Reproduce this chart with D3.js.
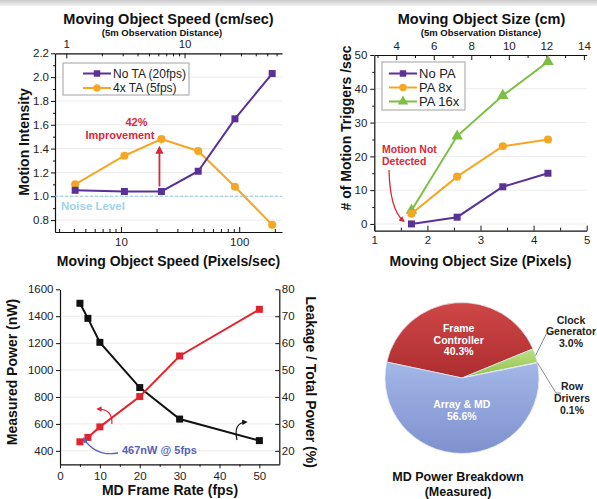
<!DOCTYPE html>
<html>
<head>
<meta charset="utf-8">
<script src="https://cdn.jsdelivr.net/npm/d3@7"></script>
<style>
body { margin: 0; background: #fff; }
svg { display: block; font-family: "Liberation Sans", Arial, sans-serif; }
.axis path, .axis line { stroke: #111; }
.axis .domain { stroke-width: 1.2; }
.axis text { font-size: 11.5px; fill: #222; }
</style>
</head>
<body>
<svg id="chart" width="597" height="499"></svg>
<script>
// chart 1 - motion intensity vs speed
const speedPx = [4.1, 10.7, 22, 45, 92, 190]
const noTA = [1.05, 1.04, 1.04, 1.21, 1.65, 2.03]
const ta4x = [1.10, 1.34, 1.48, 1.38, 1.08, 0.76]
const speedNames = ['No TA (20fps)', '4x TA (5fps)']
const speedTicks = [10, 100]
const speedMinor = [3, 4, 5, 6, 7, 8, 9, 20, 30, 40, 50, 60, 70, 80, 90, 200]
const cmTicks = [1, 10]
const cmMinor = [2, 3, 4, 5, 6, 7, 8, 9, 20, 30, 40, 50, 60]
const intensityTicks = [0.8, 1.0, 1.2, 1.4, 1.6, 1.8, 2.0, 2.2]
const intensityMinor = [0.9, 1.1, 1.3, 1.5, 1.7, 1.9, 2.1]
const noiseLevel = 1.0

// chart 2 - triggers vs object size
const sizePx = [1.7, 2.56, 3.42, 4.27]
const noPA = [0, 2, 11, 15]
const pa8x = [3, 14, 23, 25]
const pa16x = [4, 26, 38, 48]
const sizeNames = ['No PA', 'PA 8x', 'PA 16x']
const sizeTicks = [1, 2, 3, 4, 5]
const sizeMinor = [1.5, 2.5, 3.5, 4.5]
const sizeCmTicks = [4, 6, 8, 10, 12, 14]
const sizeCmMinor = [3, 5, 7, 9, 11, 13]
const triggerTicks = [0, 10, 20, 30, 40, 50]
const triggerMinor = [5, 15, 25, 35, 45]

// chart 3 - power vs frame rate
const fps = [5, 7, 10, 20, 30, 50]
const powerNW = [467, 500, 578, 803, 1105, 1451]
const leakagePct = [74.8, 69.2, 60.3, 43.5, 31.8, 23.8]
const fpsTicks = [0, 10, 20, 30, 40, 50]
const fpsMinor = [5, 15, 25, 35, 45]
const powerTicks = [400, 600, 800, 1000, 1200, 1400, 1600]
const leakTicks = [20, 30, 40, 50, 60, 70, 80]

// chart 4 - power breakdown
const blocks = [['Frame', 'Controller'], ['Clock', 'Generator'], ['Row', 'Drivers'], ['Array & MD']]
const shares = [40.3, 3.0, 0.1, 56.6]

const purple = '#5a3196', orange = '#f5a623', green = '#7cbf44'
const annRed = '#d8283a'
const intFmt = d3.format('d')

const svg = d3.select('#chart')
const defs = svg.append('defs')

const band = defs.append('linearGradient').attr('id', 'band').attr('x1', 0).attr('x2', 0).attr('y1', 0).attr('y2', 1)
band.append('stop').attr('offset', 0).attr('stop-color', '#c9c9c9')
band.append('stop').attr('offset', 1).attr('stop-color', '#f3f3f3')
svg.append('rect').attr('width', 597).attr('height', 6).attr('fill', 'url(#band)')

function marker(id, color) {
    defs.append('marker')
        .attr('id', id)
        .attr('viewBox', '0 0 10 10')
        .attr('refX', 7).attr('refY', 5)
        .attr('markerWidth', 4.5).attr('markerHeight', 4.5)
        .attr('orient', 'auto')
        .append('path')
        .attr('d', 'M0,0L10,5L0,10z')
        .attr('fill', color)
}
marker('arRed', annRed)
marker('arBlue', '#5a60b4')
marker('arBlack', '#111')

function axis(gen, tx, ty, noDomain) {
    const g = svg.append('g')
        .attr('class', 'axis')
        .attr('transform', `translate(${tx},${ty})`)
        .call(gen)
        .attr('font-family', null)
        .attr('font-size', null)
    if (noDomain) g.select('.domain').remove()
    return g
}

function text(x, y, str, size, opts = {}) {
    return svg.append('text')
        .attr('x', x).attr('y', y)
        .attr('dy', '0.35em')
        .attr('text-anchor', opts.anchor || 'middle')
        .attr('font-weight', opts.weight || 'bold')
        .attr('fill', opts.fill || '#111')
        .style('font-size', size + 'px')
        .attr('transform', opts.rotate ? `rotate(${opts.rotate},${x},${y})` : null)
        .text(str)
}

function grid(values, y, x0, x1) {
    svg.append('g').selectAll('line')
        .data(values).enter().append('line')
        .attr('x1', x0).attr('x2', x1)
        .attr('y1', d => y(d)).attr('y2', d => y(d))
        .attr('stroke', '#ebebeb')
}

function series(xs, ys, x, y, color, shape, size) {
    svg.append('path')
        .datum(ys)
        .attr('fill', 'none')
        .attr('stroke', color)
        .attr('stroke-width', 2)
        .attr('d', d3.line().x((d, i) => x(xs[i])).y(d => y(d)))
    svg.append('g').selectAll('path')
        .data(ys).enter().append('path')
        .attr('transform', (d, i) => `translate(${x(xs[i])},${y(d)})`)
        .attr('d', d3.symbol().type(shape).size(size))
        .attr('fill', color)
}

function legendRow(x0, y, name, color, shape, size, fs) {
    svg.append('line').attr('x1', x0).attr('x2', x0 + 28).attr('y1', y).attr('y2', y)
        .attr('stroke', color).attr('stroke-width', 2)
    svg.append('path').attr('transform', `translate(${x0 + 14},${y})`)
        .attr('d', d3.symbol().type(shape).size(size)).attr('fill', color)
    text(x0 + 30, y, name, fs, { anchor: 'start', weight: 'normal', fill: '#222' })
}

// ---------- chart 1 ----------
const x1 = d3.scaleLog().domain([2.77, 230]).range([55, 282])
const xTop1 = d3.scaleLog().domain([2.77 / 3.45, 230 / 3.45]).range([55, 282])
const y1 = d3.scaleLinear().domain([0.7, 2.2]).range([232, 53.3])

grid(intensityTicks.slice(0, -1), y1, 55, 282)

axis(d3.axisLeft(y1).tickValues(intensityMinor).tickSize(2).tickFormat(''), 55, 0, true)
axis(d3.axisLeft(y1).tickValues(intensityTicks).tickSizeInner(4).tickSizeOuter(0).tickPadding(2).tickFormat(d3.format('.1f')), 55, 0)
axis(d3.axisBottom(x1).tickValues(speedMinor).tickSize(-3).tickFormat(''), 0, 232, true)
axis(d3.axisBottom(x1).tickValues(speedTicks).tickSizeInner(-5).tickSizeOuter(0).tickPadding(6).tickFormat(intFmt), 0, 232)
axis(d3.axisTop(xTop1).tickValues(cmMinor).tickSize(-3).tickFormat(''), 0, 53.3, true)
axis(d3.axisTop(xTop1).tickValues(cmTicks).tickSizeInner(-5).tickSizeOuter(0).tickPadding(5).tickFormat(intFmt), 0, 53.3)

svg.append('line')
    .attr('x1', 55).attr('x2', 282)
    .attr('y1', y1(noiseLevel)).attr('y2', y1(noiseLevel))
    .attr('stroke', '#8ccbe4').attr('stroke-width', 1.2).attr('stroke-dasharray', '3,2')
text(61, y1(noiseLevel) + 9.5, 'Noise Level', 11.5, { anchor: 'start', fill: '#9ed3ea' })

series(speedPx, ta4x, x1, y1, orange, d3.symbolCircle, 52)
series(speedPx, noTA, x1, y1, purple, d3.symbolSquare, 49)

svg.append('rect').attr('x', 63).attr('y', 63).attr('width', 126).attr('height', 32)
    .attr('fill', '#fff').attr('stroke', '#a0a0a0')
legendRow(83, 73.5, speedNames[0], purple, d3.symbolSquare, 42, 12)
legendRow(83, 88, speedNames[1], orange, d3.symbolCircle, 42, 12)

const peak = 2
svg.append('line')
    .attr('x1', x1(speedPx[peak]) - 2).attr('x2', x1(speedPx[peak]) - 2)
    .attr('y1', y1(noTA[peak]) - 5).attr('y2', y1(ta4x[peak]) + 9)
    .attr('stroke', annRed).attr('stroke-width', 1.8)
    .attr('marker-end', 'url(#arRed)')
text(x1(speedPx[peak]) - 25, y1(ta4x[peak]) - 16.5, '42%', 11, { fill: annRed })
text(x1(speedPx[peak]) - 41.5, y1(ta4x[peak]) - 4, 'Improvement', 11, { fill: annRed })

text(168.5, 18.5, 'Moving Object Speed (cm/sec)', 14.5)
text(162, 33, '(5m Observation Distance)', 9.5)
text(168.5, 261, 'Moving Object Speed (Pixels/sec)', 14)
text(24, 142, 'Motion Intensity', 14, { rotate: -90 })

// ---------- chart 2 ----------
const x2 = d3.scaleLinear().domain([1, 5]).range([374.3, 586.7])
const xTop2 = d3.scaleLinear().domain([2.83, 14.15]).range([374.3, 586.7])
const y2 = d3.scaleLinear().domain([-2, 50]).range([230.7, 55])

grid(triggerTicks.slice(0, -1), y2, 374.3, 586.7)

axis(d3.axisLeft(y2).tickValues(triggerMinor).tickSize(2).tickFormat(''), 374.3, 0, true)
axis(d3.axisLeft(y2).tickValues(triggerTicks).tickSizeInner(4).tickSizeOuter(0).tickPadding(3).tickFormat(intFmt), 374.3, 0)
axis(d3.axisBottom(x2).tickValues(sizeMinor).tickSize(-3).tickFormat(''), 0, 230.7, true)
axis(d3.axisBottom(x2).tickValues(sizeTicks).tickSizeInner(-5).tickSizeOuter(0).tickPadding(5).tickFormat(intFmt), 0, 230.7)
axis(d3.axisTop(xTop2).tickValues(sizeCmMinor).tickSize(-3).tickFormat(''), 0, 55, true)
axis(d3.axisTop(xTop2).tickValues(sizeCmTicks).tickSizeInner(-5).tickSizeOuter(0).tickPadding(5).tickFormat(intFmt), 0, 55)

series(sizePx, pa16x, x2, y2, green, d3.symbolTriangle, 58)
series(sizePx, pa8x, x2, y2, orange, d3.symbolCircle, 52)
series(sizePx, noPA, x2, y2, purple, d3.symbolSquare, 49)

svg.append('rect').attr('x', 382).attr('y', 62).attr('width', 83).attr('height', 48)
    .attr('fill', '#fff').attr('stroke', '#a0a0a0')
legendRow(389, 73.5, sizeNames[0], purple, d3.symbolSquare, 42, 13)
legendRow(389, 87.5, sizeNames[1], orange, d3.symbolCircle, 42, 13)
legendRow(389, 101.5, sizeNames[2], green, d3.symbolTriangle, 48, 13)

text(382, 149, 'Motion Not', 10.5, { anchor: 'start', fill: annRed })
text(382, 161.5, 'Detected', 10.5, { anchor: 'start', fill: annRed })
svg.append('path')
    .attr('d', `M389,170 Q390,210 ${x2(sizePx[0]) - 8},${y2(noPA[0]) - 3}`)
    .attr('fill', 'none').attr('stroke', annRed).attr('stroke-width', 1.3)
    .attr('marker-end', 'url(#arRed)')

text(481.5, 18.5, 'Moving Object Size (cm)', 14.5)
text(481, 33, '(5m Observation Distance)', 9.5)
text(480.5, 261, 'Moving Object Size (Pixels)', 14)
text(346, 128, '# of Motion Triggers /sec', 14, { rotate: -90 })

// ---------- chart 3 ----------
const x3 = d3.scaleLinear().domain([0, 55]).range([60, 279.3])
const yL = d3.scaleLinear().domain([300, 1600]).range([464.3, 289.3])
const yR = d3.scaleLinear().domain([15, 80]).range([464.3, 289.3])

grid(powerTicks.slice(0, -1), yL, 60, 279.3)

axis(d3.axisLeft(yL).tickValues(powerTicks).tickSizeInner(4).tickSizeOuter(0).tickPadding(2.5).tickFormat(intFmt), 60, 0)
axis(d3.axisRight(yR).tickValues(leakTicks).tickSizeInner(-4).tickSizeOuter(0).tickPadding(2.5).tickFormat(intFmt), 279.3, 0)
axis(d3.axisBottom(x3).tickValues(fpsMinor).tickSize(2.5).tickFormat(''), 0, 464.3, true)
axis(d3.axisBottom(x3).tickValues(fpsTicks).tickSizeInner(4).tickSizeOuter(0).tickPadding(4).tickFormat(intFmt), 0, 464.3)

series(fps, leakagePct, x3, yR, '#111', d3.symbolSquare, 49)
series(fps, powerNW, x3, yL, '#e2232f', d3.symbolSquare, 49)

svg.append('path')
    .attr('d', `M${x3(fps[2]) + 12},424 Q${x3(fps[2]) + 13},409 ${x3(fps[2]) - 2},409`)
    .attr('fill', 'none').attr('stroke', '#e2232f').attr('stroke-width', 1.2)
    .attr('marker-end', 'url(#arRed)')
svg.append('path')
    .attr('d', `M237,440 Q233,423 246,422`)
    .attr('fill', 'none').attr('stroke', '#111').attr('stroke-width', 1.2)
    .attr('marker-end', 'url(#arBlack)')
svg.append('path')
    .attr('d', `M118,453 Q96,457 ${x3(fps[0]) + 4},${yL(powerNW[0]) - 3}`)
    .attr('fill', 'none').attr('stroke', '#5a60b4').attr('stroke-width', 1.3)
    .attr('marker-end', 'url(#arBlue)')
text(122, 450.5, '467nW @ 5fps', 11, { anchor: 'start', fill: '#5a60b4' })

text(12, 372, 'Measured Power (nW)', 14, { rotate: -90 })
text(311, 382, 'Leakage / Total Power (%)', 14, { rotate: 90 })
text(170, 490.5, 'MD Frame Rate (fps)', 14)

// ---------- chart 4 ----------
const sliceColors = [['#cf4747', '#ad2d30'], ['#bde082', '#8fc04d'], ['#9fb3e4', '#8092cf'], ['#a3b7e7', '#7f91ce']]
sliceColors.forEach((c, i) => {
    const lg = defs.append('linearGradient').attr('id', 'sl' + i).attr('x1', 0).attr('x2', 0).attr('y1', 0).attr('y2', 1)
    lg.append('stop').attr('offset', 0).attr('stop-color', c[0])
    lg.append('stop').attr('offset', 1).attr('stop-color', c[1])
})

const start = -77.8 * Math.PI / 180
const pie = d3.pie().sort(null).startAngle(start).endAngle(start + 2 * Math.PI)
const arcs = pie(shares)
const rad = 77
const arc = d3.arc().innerRadius(0).outerRadius(rad)
const labelArc = d3.arc().innerRadius(0).outerRadius(72)
const cx = 462, cy = 378, sy = 0.98

const pg = svg.append('g').attr('transform', `translate(${cx},${cy}) scale(1,${sy})`)
pg.selectAll('path')
    .data(arcs).enter().append('path')
    .attr('d', arc)
    .attr('fill', (d, i) => `url(#sl${i})`)
    .attr('stroke', '#e4e9f4')
    .attr('stroke-width', 0.8)

function pct(v) { return d3.format('.1f')(v) + '%' }

;[0, 3].forEach(i => {
    const c = labelArc.centroid(arcs[i])
    const lines = blocks[i].concat(pct(shares[i]))
    lines.forEach((ln, j) => {
        text(cx + c[0], cy + c[1] * sy - 3 + (j - (lines.length - 1) / 2) * 11.7, ln, 10.5, { fill: '#fff' })
    })
})

function edge(d) {
    const a = (d.startAngle + d.endAngle) / 2
    return [cx + rad * Math.sin(a), cy - rad * Math.cos(a) * sy]
}
const outside = [{ i: 1, lx: 571, ly: 320, bend: [546.5, 333.5], end: 551 }, { i: 2, lx: 572, ly: 386.5, bend: [556, 393], end: 561 }]
outside.forEach(o => {
    const p = edge(arcs[o.i])
    svg.append('path')
        .attr('d', `M${p[0]},${p[1]}L${o.bend[0]},${o.bend[1]}L${o.end},${o.bend[1]}`)
        .attr('fill', 'none').attr('stroke', '#8a8a8a').attr('stroke-width', 1)
    const lines = blocks[o.i].concat(pct(shares[o.i]))
    lines.forEach((ln, j) => text(o.lx, o.ly + j * 11.7, ln, 10.5, { fill: '#222' }))
})

text(458, 477, 'MD Power Breakdown', 12.5)
text(458, 491.5, '(Measured)', 12.5)
</script>
</body>
</html>
